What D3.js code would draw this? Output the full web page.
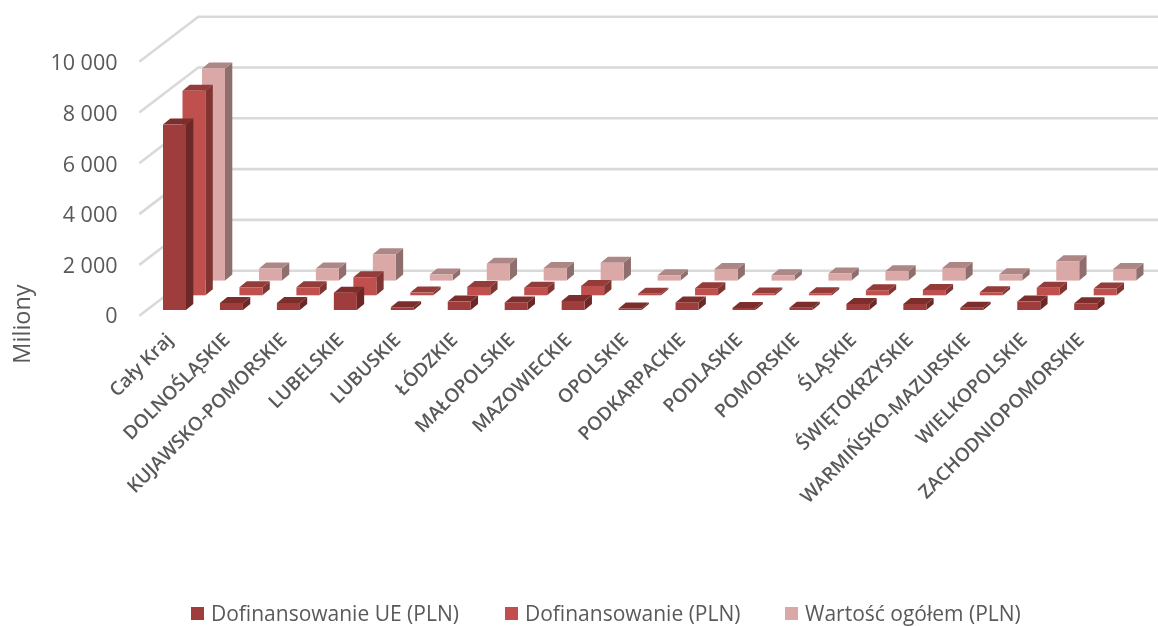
<!DOCTYPE html>
<html><head><meta charset="utf-8">
<script src="https://cdn.jsdelivr.net/npm/d3@7/dist/d3.min.js"></script>
<style>html,body{margin:0;padding:0;background:#fff}svg{display:block;filter:blur(0.5px)}text{font-family:"Open Sans",sans-serif;fill:#595959}</style>
</head><body><svg id="c" width="1158" height="626"></svg>
<script>
const categories=["Cały Kraj","DOLNOŚLĄSKIE","KUJAWSKO-POMORSKIE","LUBELSKIE","LUBUSKIE","ŁÓDZKIE","MAŁOPOLSKIE","MAZOWIECKIE","OPOLSKIE","PODKARPACKIE","PODLASKIE","POMORSKIE","ŚLĄSKIE","ŚWIĘTOKRZYSKIE","WARMIŃSKO-MAZURSKIE","WIELKOPOLSKIE","ZACHODNIOPOMORSKIE"];
const dofinansowanieUE=[7300,277,277,684,107,330,300,355,60,300,80,90,237,237,90,330,265];
const dofinansowanie=[8050,316,316,711,107,330,300,370,60,280,70,80,200,210,120,300,265];
const wartoscOgolem=[8350,474,474,1040,237,660,500,700,210,460,210,277,370,500,250,765,460];
const tickValues=[0,2000,4000,6000,8000,10000];
const seriesNames=["Dofinansowanie UE (PLN)","Dofinansowanie (PLN)","Wartość ogółem (PLN)"];

const seriesList=[
 {values:dofinansowanieUE,front:"#9E3D3B",side:"#6B2827",top:"#7C2E2C",depth:0},
 {values:dofinansowanie,front:"#C0504D",side:"#803533",top:"#933C3A",depth:1},
 {values:wartoscOgolem,front:"#DAA9A7",side:"#8E6F6E",top:"#AD8786",depth:2}
];
const svg=d3.select("#c");
const x=d3.scaleBand().domain(categories).range([163,163+56.95*17]);
const h=d3.scaleLinear().domain([0,10000]).range([0,254]);
const baseY=310, stepX=19.5, stepY=14.7, barW=23, sideX=7.3, sideY=6;
const wallTop=16.7, wallBottom=270.7, wallX0=139.3, wallX1=198.3, wallDrop=45;
const gy=d3.scaleLinear().domain([0,10000]).range([wallBottom,wallTop]);

const grid=svg.append("g").attr("stroke","#d9d9d9").attr("stroke-width",2.6).attr("fill","none");
grid.selectAll("path").data(tickValues).join("path")
 .attr("d",d=>`M${wallX0},${gy(d)+wallDrop}L${wallX1},${gy(d)}L1158,${gy(d)}`);

[...seriesList].reverse().forEach(s=>{
 const g=svg.append("g");
 const ox=s.depth*stepX, oy=baseY-s.depth*stepY;
 categories.forEach((c,i)=>{
  const x0=x(c)+ox, x1=x0+barW, yb=oy, yt=oy-h(s.values[i]);
  const bar=g.append("g");
  bar.append("path").attr("fill",s.side).attr("d",`M${x1},${yb}L${x1+sideX},${yb-sideY}L${x1+sideX},${yt-sideY}L${x1},${yt}Z`);
  bar.append("path").attr("fill",s.top).attr("d",`M${x0},${yt}L${x0+sideX},${yt-sideY}L${x1+sideX},${yt-sideY}L${x1},${yt}Z`);
  bar.append("rect").attr("x",x0).attr("y",yt).attr("width",barW).attr("height",yb-yt).attr("fill",s.front);
 });
});

const yAxisScale=d3.scaleLinear().domain([0,10000]).range([316,63]);
const axis=d3.axisLeft(yAxisScale).tickValues(tickValues).tickSize(0).tickPadding(0)
 .tickFormat(d=>d3.format(",")(d).replace(",", " "));
const ag=svg.append("g").attr("transform","translate(117.5,0)").call(axis);
ag.select(".domain").remove();
ag.selectAll("text").style("font-size","21.5px").attr("fill","#595959");

svg.append("text").attr("transform","translate(30,324) rotate(-90)").attr("text-anchor","middle")
 .style("font-size","23.5px").text("Miliony");

svg.append("g").selectAll("text").data(categories).join("text")
 .attr("text-anchor","end").style("font-size","19px").style("font-weight","600")
 .attr("transform",d=>`translate(${x(d)+11},${341}) rotate(-45)`).text(d=>d);

const legendX=[191,505,785];
const legend=svg.append("g");
seriesNames.forEach((n,i)=>{
 legend.append("rect").attr("x",legendX[i]).attr("y",607).attr("width",13).attr("height",13).attr("fill",seriesList[i].front);
 legend.append("text").attr("x",legendX[i]+20).attr("y",621).style("font-size","21px").text(n);
});
</script></body></html>
